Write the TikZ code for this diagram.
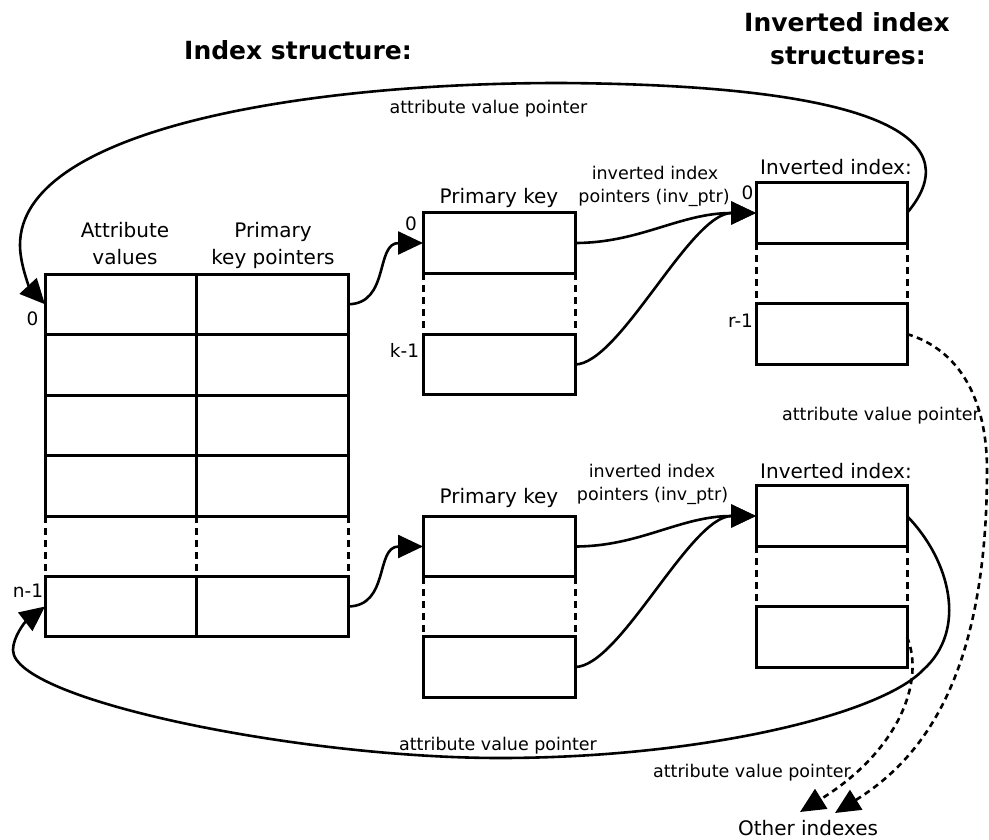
\documentclass[tikz,border=0pt]{standalone}
\usepackage{fontspec}
\setmainfont{DejaVu Sans}
\usetikzlibrary{arrows.meta}
\begin{document}
\begin{tikzpicture}[x=1pt,y=-1pt,
  cell/.style={draw,line width=3pt,rectangle,minimum width=151.5pt,minimum height=60.5pt,inner sep=0pt,outer sep=0pt},
  gap/.style={line width=3pt,dash pattern=on 7pt off 5pt},
  link/.style={line width=2.6pt,-{Triangle[length=25pt,width=23pt]}},
  dlink/.style={link,dash pattern=on 6pt off 4.5pt},
  lbl/.style={font=\fontsize{20}{28}\selectfont,inner sep=0pt,anchor=base},
  small/.style={font=\fontsize{17.5}{24.5}\selectfont,inner sep=0pt,anchor=base},
  idx/.style={font=\fontsize{18.5}{22}\selectfont,inner sep=0pt,anchor=base},
  title/.style={font=\fontsize{25}{34}\selectfont\bfseries,inner sep=0pt,anchor=base}]
\useasboundingbox (0,0) rectangle (989,840);

% headings
\node[title] (t1) at (298,59.5) {Index structure:};
\node[title] (t2) at (847,32) {Inverted index};
\node[title] (t3) at (848,65) {structures:};

% main index table: attribute values | primary key pointers
\node[lbl] (h1) at (125,237.5) {Attribute};
\node[lbl] (h2) at (125,265) {values};
\node[lbl] (h3) at (273,237.5) {Primary};
\node[lbl] (h4) at (273,265) {key pointers};

\node[cell] (a0) at (120.75,304.25) {};
\node[cell] (b0) at (272.25,304.25) {};
\node[cell] (a1) at (120.75,364.75) {};
\node[cell] (b1) at (272.25,364.75) {};
\node[cell] (a2) at (120.75,425.25) {};
\node[cell] (b2) at (272.25,425.25) {};
\node[cell] (a3) at (120.75,485.75) {};
\node[cell] (b3) at (272.25,485.75) {};
\node[cell] (an) at (120.75,606.5) {};
\node[cell] (bn) at (272.25,606.5) {};
\draw[gap] (a3.south west) -- (an.north west);
\draw[gap] (a3.south east) -- (an.north east);
\draw[gap] (b3.south east) -- (bn.north east);
\node[idx] (i0) at (32.5,325) {0};
\node[idx] (in) at (28,597) {n-1};

% primary key blocks
\node[lbl] (p1) at (499,203.5) {Primary key};
\node[cell,minimum width=152pt] (pA0) at (499,243) {};
\node[cell,minimum width=152pt] (pAk) at (499,364.5) {};
\draw[gap] (pA0.south west) -- (pAk.north west);
\draw[gap] (pA0.south east) -- (pAk.north east);
\node[idx] (ip0) at (411,230) {0};
\node[idx] (ipk) at (404.5,357) {k-1};

\node[lbl] (p2) at (499,503.5) {Primary key};
\node[cell,minimum width=152pt] (pB0) at (499,546.5) {};
\node[cell,minimum width=152pt] (pBk) at (499,667) {};
\draw[gap] (pB0.south west) -- (pBk.north west);
\draw[gap] (pB0.south east) -- (pBk.north east);

% inverted index blocks
\node[lbl] (v1) at (836,175) {Inverted index:};
\node[cell,minimum width=151pt] (vA0) at (831.5,213) {};
\node[cell,minimum width=151pt] (vAr) at (831.5,334) {};
\draw[gap] (vA0.south west) -- (vAr.north west);
\draw[gap] (vA0.south east) -- (vAr.north east);
\node[idx] (iv0) at (747.5,200) {0};
\node[idx] (ivr) at (740.5,327) {r-1};

\node[lbl] (v2) at (836,478) {Inverted index:};
\node[cell,minimum width=151pt] (vB0) at (831.5,516) {};
\node[cell,minimum width=151pt] (vBr) at (831.5,637) {};
\draw[gap] (vB0.south west) -- (vBr.north west);
\draw[gap] (vB0.south east) -- (vBr.north east);

% pointer labels
\node[small] (q1) at (655,180) {inverted index};
\node[small] (q2) at (654,203) {pointers (inv\_ptr)};
\node[small] (q3) at (652,477) {inverted index};
\node[small] (q4) at (652.5,500) {pointers (inv\_ptr)};
\node[small] (r1) at (488.5,113.5) {attribute value pointer};
\node[small] (r2) at (498,750) {attribute value pointer};
\node[small] (r3) at (881,420) {attribute value pointer};
\node[small] (r4) at (752,777) {attribute value pointer};
\node[lbl] (oth) at (808,835) {Other indexes};
\coordinate (tipA) at (835,813);
\coordinate (tipB) at (800,812);

% primary key pointers
\draw[link] (b0.east) .. controls (390,304) and (375,243) .. (pA0.west);
\draw[link] (bn.east) .. controls (390,606) and (375,546.5) .. (pB0.west);

% inverted index pointers
\draw[link] (pA0.east) .. controls (640,243) and (680,213) .. (vA0.west);
\draw[link] (pAk.east) .. controls (620,364) and (690,213) .. (vA0.west);
\draw[link] (pB0.east) .. controls (640,546.5) and (680,516) .. (vB0.west);
\draw[link] (pBk.east) .. controls (620,667) and (690,516) .. (vB0.west);

% attribute value pointers back into the table
\draw[link] (vA0.east) .. controls (965,145) and (900,85) .. (560,83)
  .. controls (300,83) and (20,130) .. (20,245)
  .. controls (20,265) and (30,288) .. (a0.west);
\draw[link] (vB0.east) .. controls (950,560) and (968,630) .. (923,670)
  .. controls (880,715) and (700,758) .. (500,758)
  .. controls (300,758) and (13,700) .. (13,650)
  .. controls (13,637) and (25,622) .. (an.west);

% pointers to other indexes
\draw[dlink] (vAr.east) .. controls (960,350) and (987,400) .. (987,470)
  .. controls (987,680) and (920,760) .. (tipA);
\draw[dlink] (vBr.east) .. controls (925,680) and (900,750) .. (tipB);
\end{tikzpicture}
\end{document}
